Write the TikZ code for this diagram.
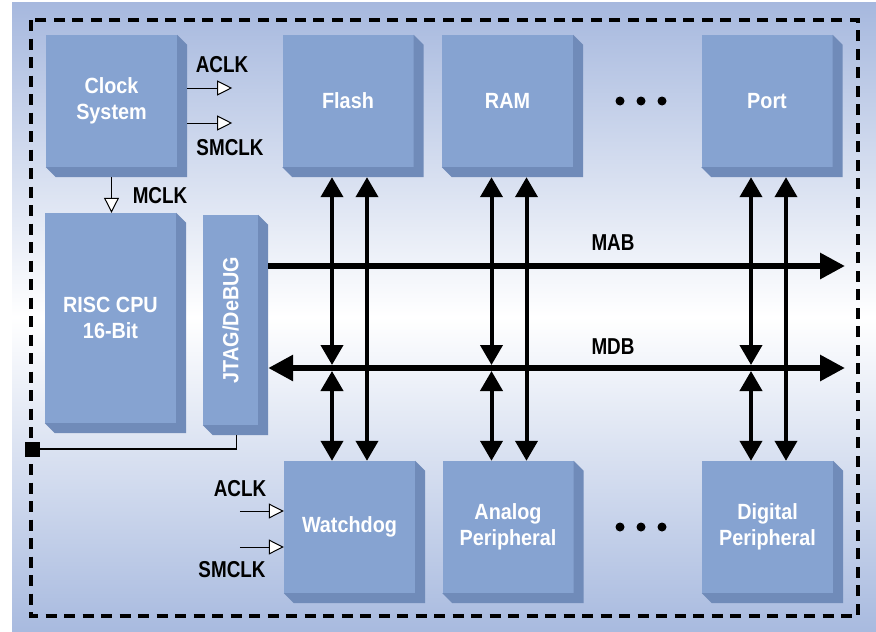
\documentclass[tikz,border=0pt]{standalone}
\usepackage{fontspec}
\setmainfont{Liberation Sans}[FakeStretch=0.9]
\newfontfamily\condfont{Liberation Sans}[FakeStretch=0.82]
\usetikzlibrary{arrows.meta}
\definecolor{bgtop}{RGB}{166,184,222}
\definecolor{bgbot}{RGB}{168,186,223}
\definecolor{blkface}{RGB}{134,163,209}
\definecolor{blkside}{RGB}{112,139,185}
\newcommand{\lblfont}{\fontsize{22}{26}\selectfont\bfseries}
\newcommand{\sigfont}{\condfont\fontsize{23}{26}\selectfont\bfseries}
\tikzset{
    blk/.style={fill=blkface, text=white, inner sep=0pt, minimum width=131pt, minimum height=132pt, align=center, font=\lblfont},
    sig/.style={font=\sigfont, inner sep=0pt},
    clkarr/.style={line width=1pt, -{Triangle[length=15pt,width=15pt,fill=white]}},
    bus/.style={line width=6pt, >={Triangle[length=25pt,width=25pt]}},
    vbus/.style={line width=4pt, <->, >={Triangle[length=20pt,width=22pt]}}
}
\begin{document}
\begin{tikzpicture}[x=1pt,y=-1pt]
    \useasboundingbox (0,0) rectangle (876,632);
    %Background
    \shade[top color=bgtop, bottom color=bgbot, middle color=white] (12,2) rectangle (876,632);
    \draw[line width=4pt, dash pattern=on 11pt off 7.5pt] (31,20) rectangle (858,616);
    %Blocks
    \node[blk] (clk)   at (111.5,101) {Clock\\System};
    \node[blk] (flash) at (348,101)   {Flash};
    \node[blk] (ram)   at (507.5,101) {RAM};
    \node[blk] (port)  at (767,101)   {Port};
    \node[blk, minimum height=210pt] (cpu) at (110.5,318) {RISC CPU\\16-Bit};
    \node[blk, minimum width=55pt, minimum height=210pt] (jtag) at (230.5,320) {};
    \node[rotate=90, text=white, font=\lblfont] (jtagtxt) at (jtag) {JTAG/DeBUG};
    \node[blk] (wdt)   at (349.5,527) {Watchdog};
    \node[blk] (anlg)  at (508,527)   {Analog\\Peripheral};
    \node[blk] (dig)   at (767.5,527) {Digital\\Peripheral};
    %Shading of the blocks
    \foreach \n in {clk,flash,ram,port,cpu,jtag,wdt,anlg,dig}
        \fill[blkside] (\n.north east) -- ++(10,10) |- ([shift={(10,10)}]\n.south west) -- (\n.south west) -- (\n.south east) -- cycle;
    %Dots
    \foreach \x in {620,641,662}{
        \fill (\x,101) circle (4.5);
        \fill (\x,527) circle (4.5);
    }
    %Buses
    \coordinate (mabE) at (845,266);
    \coordinate (mdbE) at (845,368);
    \coordinate (mdbT) at (845,365);
    \coordinate (mdbB) at (845,371);
    \draw[bus, ->]  ([xshift=10pt]jtag.east |- mabE) -- (mabE);
    \draw[bus, <->] ([xshift=10pt]jtag.east |- mdbE) -- (mdbE);
    \node[sig] (mab) at (613,243) {MAB};
    \node[sig] (mdb) at (613,347) {MDB};
    \foreach \up/\dn in {flash/wdt,ram/anlg,port/dig}{
        \draw[vbus] ([xshift=-16pt,yshift=-10pt]\up.south) -- ([xshift=-16pt]\up.south |- mdbT);
        \draw[vbus] ([xshift=-16pt]\up.south |- mdbB) -- ([xshift=-16pt]\up.south |- \dn.north);
        \draw[vbus] ([xshift=19pt,yshift=-10pt]\up.south) -- ([xshift=19pt]\up.south |- \dn.north);
    }
    %JTAG line
    \node[fill=black, minimum size=15pt, inner sep=0pt] (jp) at (32,449) {};
    \draw[line width=1.2pt] ([xshift=6pt,yshift=-10pt]jtag.south) |- (jp);
    %Clocks
    \draw[clkarr] ([xshift=10pt,yshift=13pt]clk.east) -- ++(45,0);
    \draw[clkarr] ([xshift=10pt,yshift=-22pt]clk.east) -- ++(45,0);
    \draw[clkarr] ([yshift=-10pt]clk.south) -- (clk.south |- cpu.north);
    \draw[clkarr] ([xshift=-44pt,yshift=16pt]wdt.west) -- ([yshift=16pt]wdt.west);
    \draw[clkarr] ([xshift=-44pt,yshift=-20pt]wdt.west) -- ([yshift=-20pt]wdt.west);
    \node[sig] (aclka)  at (222,65)  {ACLK};
    \node[sig] (smclka) at (230,148) {SMCLK};
    \node[sig] (mclk)   at (160,196) {MCLK};
    \node[sig] (aclkb)  at (240,489) {ACLK};
    \node[sig] (smclkb) at (232,570) {SMCLK};
\end{tikzpicture}
\end{document}
